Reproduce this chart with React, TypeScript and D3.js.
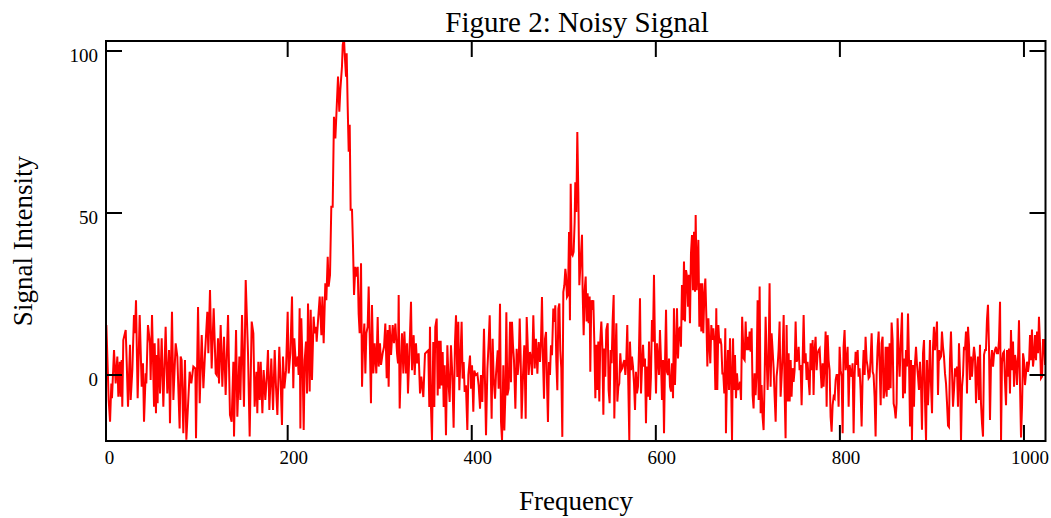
import React from "react";
import * as d3 from "d3";

// Frequency / intensity samples
const frequency: number[] = [
  // 0 - 175
  3, 5.5, 7, 8.4, 9.1, 11.3, 13.1, 14.9, 16, 17.5,
  18.5, 19.6, 20.3, 21.4, 24, 25.1, 26.5, 28.7, 29.4, 31.2,
  33, 34.1, 35.2, 37, 39.2, 41.4, 42.8, 43.9, 45.7, 46.4,
  48.2, 50.4, 51.1, 52.6, 54.8, 55.5, 56.9, 57.7, 58.7, 59.5,
  61.3, 63.1, 64.9, 67.4, 69.2, 71.1, 72.1, 74.3, 75.8, 78.3,
  80.1, 82.6, 83.7, 84.8, 86.6, 88.4, 89.9, 93.5, 95.3, 97.5,
  99.7, 100.4, 102.6, 104.4, 106.6, 108.4, 110.2, 112.7, 113.8, 115.6,
  117.4, 119.6, 121.8, 122.9, 124.3, 125.4, 127.2, 129, 130.8, 132.6,
  135.2, 137.3, 139.1, 141, 141.7, 143.9, 145.3, 147.5, 148.6, 150.4,
  152.5, 154.4, 156.9, 158.7, 160.9, 162.7, 164.1, 166, 167, 168.1,
  169.6, 170.7, 172.5,
  // 175 - 345
  173.9, 175.7, 177.5, 178.6, 180.1, 182.2, 184.1, 185.9, 187.3, 188.8,
  190.9, 192.4, 193.8, 194.9, 196.4, 198.2, 200, 201.1, 202.9, 204.7,
  206.1, 207.2, 209, 210.9, 211.9, 213, 213.8, 214.8, 216.3, 217.4,
  218.5, 219.9, 221, 222.1, 223.9, 225, 226.4, 228.2, 229.3, 230.8,
  231.5, 233, 234.8, 236.6, 237.7, 239.1, 240.9, 242, 243.5, 244.5,
  246, 247.4, 248.9, 250.3, 251.8, 253.6, 254.7, 256.1, 257.2, 259,
  259.8, 261.2, 261.9, 263.4, 264.1, 265.2, 266.3, 267.4, 268.4, 269.9,
  271, 272.1, 273.5, 274.6, 276.1, 277.1, 278.2, 279.7, 280.8, 281.8,
  283.3, 284.4, 285.5, 286.9, 288, 289.1, 290.5, 291.6, 293.1, 294.5,
  296.3, 297.8, 298.9, 300.3, 301.4, 303.2, 304.7, 306.1, 307.6, 308.7,
  309.7, 310.8, 312.3, 314.1, 315.5, 317, 318.8, 319.9, 320.6, 321.7,
  323.1, 324.2, 325.7, 326.8, 328.6, 329.7, 330.7, 332.2, 334, 335.1,
  336.9, 338, 339.4, 340.5, 342.3, 343.8, 345.2,
  // 345 - 517
  347.4, 349.2, 351, 352.8, 353.9, 354.6, 355.7, 356.8, 358.2, 359.3,
  360.4, 361.9, 363, 364, 365.1, 366.2, 367.3, 368.4, 369.5, 370.6,
  372, 373.5, 374.9, 376, 377.4, 378.9, 380.3, 381.8, 382.9, 384.3,
  385.4, 386.5, 387.6, 389, 390.1, 391.2, 392.3, 393.7, 395.2, 396.3,
  398.1, 399.2, 400.3, 401.7, 402.8, 404.2, 406.1, 407.5, 409, 410,
  411.5, 413.3, 414.4, 415.5, 417, 418.4, 419.5, 420.5, 421.6, 422.7,
  423.8, 425.3, 426.3, 428.2, 429.2, 430.7, 431.8, 432.9, 434.3, 435.4,
  436.5, 437.6, 438.7, 440.1, 441.6, 442.6, 443.7, 444.8, 445.9, 447.4,
  448.8, 449.9, 451, 452.1, 453.1, 454.2, 455.7, 457.1, 458.6, 459.7,
  460.7, 461.8, 463.3, 464.4, 465.5, 466.9, 468.4, 469.8, 471.3, 472.7,
  474.2, 475.2, 476.3, 477.4, 478.5, 479.6, 480.7, 481.8, 482.8, 483.9,
  485, 486.1, 487.2, 488.6, 489.7, 490.8, 491.9, 493, 494.1, 495.2,
  496.2, 497.3, 498.4, 499.5, 500.6, 501.7, 502.4, 503.5, 504.6, 505.7,
  506.7, 507.5, 508.6, 509.6, 510.7, 511.8, 512.5, 513.6, 514.7, 515.8,
  516.9,
  // 519 - 691
  519.8, 520.5, 521.6, 522.7, 523.8, 524.8, 525.9, 527, 528.1, 528.8,
  529.9, 531, 532.1, 533.2, 534.3, 535.3, 536.4, 537.5, 538.6, 539.7,
  540.8, 541.9, 543, 544, 545.1, 546.2, 547.7, 548.7, 549.8, 550.9,
  552, 553.1, 554.2, 554.9, 556, 557.1, 558.2, 559.3, 560.3, 561.4,
  562.5, 563.6, 564.7, 565.8, 566.9, 567.9, 569, 570.1, 571.2, 571.9,
  573, 574.1, 575.2, 576.3, 577.4, 578.4, 579.5, 580.6, 581.7, 582.8,
  583.9, 585, 586.1, 587.1, 588.2, 589.3, 590.4, 591.5, 592.6, 593.7,
  594.7, 595.8, 596.9, 598, 599.1, 600.2, 601.3, 602.4, 603.4, 604.5,
  605.6, 606.7, 607.8, 608.9, 610, 611.1, 612.1, 613.2, 614.3, 615.4,
  616.5, 617.6, 618.7, 619.7, 620.8, 621.9, 623, 624.1, 625.2, 626.3,
  627.3, 628.4, 629.5, 630.6, 631.7, 632.8, 633.9, 635, 636, 637.1,
  638.2, 639.3, 640.4, 641.5, 642.6, 643.3, 644.4, 645.5, 646.2, 647.3,
  648.4, 649.4, 650.5, 651.6, 652.7, 653.8, 654.9, 656, 657.1, 658.1,
  659.2, 660.3, 661.4, 662.5, 663.6, 664.7, 665.7, 666.8, 667.9, 669,
  670.1, 671.2, 672.3, 673.3, 674.4, 675.5, 676.2, 677.3, 678.4, 679.5,
  680.6, 681.7, 682.8, 683.9, 684.9, 686, 687.1, 688.2, 689.3, 690.4,
  // 691 - 866
  691.5, 692.6, 693.8, 695.4, 696.5, 697.6, 698.6, 699.7, 700.8, 701.9,
  703, 704.1, 705.2, 706.2, 707.3, 708.4, 709.5, 710.6, 711.7, 712.8,
  713.9, 714.9, 716, 717.1, 718.2, 719.3, 720.4, 721.5, 722.5, 723.6,
  724.7, 725.8, 726.9, 728, 729.1, 730.2, 731.2, 732.3, 733.4, 734.5,
  735.6, 736.7, 737.8, 738.9, 739.9, 741, 742.1, 743.2, 744.3, 745.4,
  746.5, 747.5, 748.6, 749.7, 750.8, 751.9, 753, 754.1, 755.2, 756.2,
  757.3, 758.4, 759.5, 760.6, 761.7, 762.8, 763.8, 764.9, 766, 767.1,
  768.2, 769.3, 770.4, 771.4, 772.5, 773.6, 774.7, 775.8, 776.9, 778,
  779.1, 780.1, 781.2, 782.3, 783.4, 784.5, 785.6, 786.7, 787.7, 788.8,
  789.9, 791, 792.1, 793.2, 794.3, 795.4, 796.4, 797.5, 798.6, 799.7,
  800.8, 801.9, 803, 804, 805.1, 806.2, 807.3, 808.4, 809.5, 810.6,
  811.7, 812.7, 813.8, 814.9, 816, 817.1, 818.2, 819.3, 820.3, 821.4,
  822.5, 823.6, 824.7, 825.8, 826.9, 827.9, 829, 830.1, 831.2, 832.3,
  833.4, 834.5, 835.6, 836.6, 837.7, 838.8, 839.9, 841, 842.1, 843.2,
  844.3, 845.3, 846.4, 847.5, 848.6, 849.7, 850.8, 851.9, 853, 854,
  855.1, 856.2, 857.3, 858.4, 859.5, 860.6, 861.6, 862.7, 863.8, 864.9,
  866,
  // 867 - 1023
  867.5, 868.6, 869.6, 870.7, 871.8, 872.9, 874, 875.1, 876.2, 877.3,
  878.3, 879.4, 880.5, 881.6, 882.7, 883.8, 884.9, 885.9, 887, 888.1,
  889.2, 890.3, 891.4, 892.5, 893.6, 894.6, 895.7, 896.8, 897.9, 899,
  900.1, 901.2, 902.2, 903.3, 904.4, 905.5, 906.6, 907.7, 908.8, 909.9,
  910.9, 912, 913.1, 914.2, 915.3, 916.4, 917.5, 918.5, 919.6, 920.7,
  921.8, 922.9, 924, 925.1, 926.1, 927.2, 928.3, 929.4, 930.5, 931.6,
  932.7, 933.8, 934.8, 935.9, 937, 938.1, 939.2, 940.3, 941.4, 942.4,
  943.5, 944.6, 945.7, 946.8, 947.9, 949, 950, 951.1, 952.2, 953.3,
  954.4, 955.5, 956.6, 957.7, 958.7, 959.8, 960.9, 962, 963.1, 964.2,
  965.3, 966.4, 967.4, 968.5, 969.6, 970.7, 971.8, 972.9, 974, 975.1,
  976.1, 977.2, 978.3, 979.4, 980.5, 981.6, 982.7, 983.7, 984.8, 985.9,
  987, 988.1, 989.2, 990.3, 991.4, 992.4, 993.5, 994.6, 995.7, 996.8,
  997.9, 999, 1000, 1001.1, 1002.2, 1003.3, 1004.4, 1005.5, 1006.6, 1007.6,
  1008.7, 1009.8, 1010.9, 1012, 1013.1, 1014.2, 1015.3, 1016.3, 1017.4, 1018.5,
  1019.6, 1020.7, 1021.8, 1023,
];

const intensity: number[] = [
  // 0 - 175
  15.4, -7.7, -14.4, -2.6, -7.2, 7.7, -2.6, 5.7, -6.7, 4.1,
  -6.7, 4.6, -9.8, 10.8, 13.9, 4.1, -9.8, 9.3, -7.7, 1.5,
  18.5, 12.9, 23.1, -7.2, 18.5, -3.6, 3.6, -14.4, 0.5, -2.6,
  15.4, 9.8, -1.5, 18.5, -9.8, 9.8, -11.8, 6.2, -8.7, 11.3,
  -5.7, 11.3, -9.8, 14.9, -5.7, 7.7, -14.9, 19.5, -7.7, 9.8,
  5.7, -16.5, 5.7, 4.6, -18, 4.6, -20, 1, -2.6, 2.6,
  2, -19.5, 21, -8.7, 12.3, -4.1, 6.7, 19.5, 6.7, 26.2,
  2, 20.6, 0.5, 0, 11.3, -2.6, 15.4, -3.6, 11.8, -6.2,
  18.5, -12.3, -14.4, 4.1, -19, 13.9, -12.9, 5.7, -7.7, 18.5,
  -9.8, 29.3, 6.7, -19, 16.5, 12.9, -9.8, 1, -11.8, 4.1,
  -7.7, 4.1, -11.8,
  // 175 - 345
  1.5, -7.7, 0.5, 7.7, -10.8, 5.1, -10.8, 7.7, -3.6, -12.3,
  8.7, -2.6, -15.4, 5.7, -4.1, 1.5, 19.5, 0.5, 6.7, 24.2,
  -4.1, 11.3, 2.6, 5.7, 0, 20.6, -16.5, 17.5, 1.5, -17,
  4.6, 10.3, -5.7, 22.1, -5.1, 20.1, -1.5, 18, 12.9, 14.9,
  10.3, 16.9, 24.2, 12.3, 24.2, 9.8, 28.3, 23.1, 36.5, 27.3,
  30.9, 51.9, 51.9, 79.7, 73, 84.9, 92.1, 81.3, 88, 95.2,
  101.9, 104, 99.3, 92.1, 99.3, 82.8, 68.9, 77.2, 51, 51,
  39.6, 24.7, 33.4, 30.4, 33.4, 19, 12.9, 34.5, -3.6, 8.7,
  15.9, 0.5, 12.9, 14.9, 27.3, 12.3, -8.7, 21.6, 0.5, 9.8,
  0.5, 17.9, 2.6, 9.8, 3.1, 6.7, 8.7, 15.9, -1, 13.9,
  -3.6, 15.4, 6.2, 15.4, 9.8, 15.9, 6.7, 3.6, 24.7, -10.3,
  4.1, 12.9, 0.5, 13.4, 0.5, 9.8, -5.7, 6.2, 22.6, 1.5,
  12.3, 0, 9.8, 3.6, 6.7, -5.7, -0.5,
  // 345 - 517
  -6.8, 6.6, 7.1, 7.6, -9.9, 14.9, -9.9, -20.2, 10.2, -9.9,
  14.9, 17.4, -6.3, 10.6, -4.2, 10.6, -3.2, 7.1, -9.9, 3,
  -18.6, 9.2, -3.2, -8.3, 9.2, 0, -16.3, 10.2, 18.4, -0.6,
  16.4, -4.7, 4, 16.4, -1.1, 4, -5.2, -3.2, -17, 0,
  6, -4.2, 3, -11.3, 1.4, 0, 0.4, -3.2, -10.4, 0,
  -8.3, 14.3, -2.2, -18.6, 1.9, 10.2, 18.4, 4, -13.5, 11.2,
  -1.1, -7.3, 0, 7.6, -4.2, 22, -14.5, -20.3, 3, -17.1,
  -6.3, 19.4, -6.3, -4.2, 16.4, -2.2, 16.4, 9.2, 4.5, -10.4,
  8.1, 0, 4, 17.4, 6.1, -13.5, 0, 9.2, -13.5, 17.9,
  10.2, 0, 7.1, 5.1, 0, 18.4, 2, 11.2, 0.4, 10.2,
  4, 10.2, 24.1, 5.1, -7.3, 11.2, 13.3, -2.7, -14.5, 4,
  0, 9.2, 6.1, 20.5, 16.4, 21.5, 4, -4.7, 20.5, 22.1,
  7.6, 2, -19.1, 25.6, 27.7, 32.8, 30.9, 24.1, 24.7, 44.1,
  16.9, 59, 37.4, 36.9, 38, 47.2, 59.5, 50.3, 75, 56.5,
  27.7,
  // 519 - 691
  43.3, 25.7, 12.3, 26.2, 30.4, 16.5, 25.2, 16, 24.2, 1,
  23.1, 20.1, 23.1, 9.8, -7.2, 9.3, -4.6, 10.3, -8.2, 10.8,
  16.5, 8.7, -12.3, 8.2, -0.5, 13.9, 16, -4.6, -8.7, 7.7,
  3.6, 16.9, 24.7, -13.4, 3.6, 16, -8.2, -3.6, -2.6, 6.7,
  1.5, 2.1, 3.6, 4.6, 0, 4.6, 15.4, -3.1, -20.1, 10.3,
  1.5, 5.7, 2.6, -2.6, -10.8, 1, -5.7, -3.6, 7.7, 23.7,
  -5.7, 2.6, 9.3, 2.6, 5.1, -14.9, 2.6, -6.7, 10.3, -7.7,
  -0.5, 17, 10.3, 30.9, 8.2, -5.7, 9.8, 4.6, 0, 13.9,
  4.6, -7.7, 4.6, -18, 4.1, 20.1, 1, 0, 5.1, -3.6,
  -5.1, 3.6, -7.2, 20.6, -3.1, 7.7, 20.6, 5.1, 13.9, 14.9,
  8.7, 27.8, 16.9, 35, 16.5, 32.4, 30.4, 21.1, 30.9, 16,
  37.6, 43.2, 26.2, 44.2, 25.7, 49.4, 26.2, 35.5, 41.7, 14.9,
  28.3, 13.4, 28.3, 12.9, 24.7, 29.8, 18, 2.6, 17.5, 9.8,
  3.6, 15.4, 10.8, 14.4, 10.3, -4.6, 20.6, -4.6, 15.4, 9.8,
  11.3, 9.3, 0.5, 0.5, -5.7, 14.4, -18, 0, 7.7, -4.6,
  11.3, -0.5, -20.1, 11.3, -4.6, 6.2, -7.2, 0.5, -4.6, -3.6,
  // 691 - 866
  -2.1, -7.7, 18, 5.1, 4.6, 16.5, 7.7, 11.8, 7.7, 13.4,
  7.2, 14.4, -6.2, -10.3, 0.5, -6.2, 0.5, 23.1, -7.7, 27.3,
  -11.8, -3.1, -12.9, -17, -1.5, 18, 5.7, -4.6, 4.6, 28.3,
  -3.6, 12.9, 7.7, 2.1, -6.7, -14.4, -0.5, 2.6, 7.7, 16.5,
  -6.7, -0.5, 6.7, 18.5, -4.6, -19.5, 15.4, -8.2, 6.7, -8.2,
  4.6, -6.7, 2.1, -2.1, 1.5, 16.5, 4.1, 5.1, 8.7, 1.5,
  3.1, -9.3, 4.1, 18.5, 3.6, 6.7, -1.5, 4.1, -1.5, -6.2,
  9.8, 1.5, 10.8, -6.2, 7.7, 11.8, 1.5, 6.7, 7.7, 8.2,
  1.5, -4.1, 3.6, -3.6, 3.6, 13.4, -9.8, 12.3, 4.6, 1.5,
  -12.9, -17.5, -9.3, -6.7, -7.2, -1.5, 0, 0, -9.8, 8.7,
  1.5, -0.5, -18, 8.7, 13.9, 1.5, 4.1, 8.7, -9.8, 3.1,
  0.5, -0.5, 3.6, -18, 0, 7.2, 3.1, 7.7, -0.5, 2.1,
  -4.6, -15.9, -0.5, 7.7, 0, 11.8, 4.6, 2.6, -1, -0.5,
  5.1, 12.9, 1, 0, -6.7, -19, 0, 8.7, 13.4, 2.6,
  -9.3, 9.8, 11.8, -7.2, -4.6, 8.7, -6.7, 8.7, -4.6, 9.8,
  -4.1, 16.2, 10.8, -8.8, -10.3, -13.4, -8.8, 17.5, 7.2, -0.5,
  9.3,
  // 867 - 1023
  19.3, -7.2, 5.1, -5.7, 7.7, 2.6, 19, 4.6, -15.9, 4.6,
  -20.3, 3.1, -9.8, 3.6, 8.7, 3.1, -0.5, -4.6, 4.1, -2.6,
  -16.9, 6.7, 10.8, -8.2, -20.3, 4.6, -9.3, -1.5, 10.8, -3.1,
  -11.8, 8.7, 14.9, 7.7, 11.8, 16.5, -6.2, 7.7, 5.1, 5.7,
  13.4, 8.7, 5.7, 0.5, -2.6, -8.7, -15.6, -16, 4.6, 13.4,
  1.5, -9.8, -4.6, 2.1, -0.5, 2.6, -9.8, 9.8, 0.5, -20.3,
  -3.6, 0, 8.7, 7.7, 13.4, -5.7, 14.9, 9.3, -1.5, 5.7,
  -0.5, 4.6, 8.7, 5.7, -8.7, 1.5, 5.7, -7.7, 9.3, -8.7,
  -14.9, -19, 6.2, 7.7, 7.7, 17, 21.7, 8.7, -13.9, 4.1,
  7.7, 2.6, 6.2, 7.7, 8.7, 6.7, 6.7, 10.8, 22.6, -20.3,
  3.6, 6.7, 7.2, -2.1, -9.3, 7.7, -0.5, 8.2, -5.7, 13.9,
  1.5, 10.3, -3.6, 6.2, 4.1, -3.1, 4.6, 16.9, -3.1, -19.3,
  -9.8, 6.7, 4.6, -3.1, 0.5, 4.1, 1, 3.6, 12.3, 4.6,
  14, 2.6, 5.7, 12.3, 4.6, 13.4, 6.7, 18, 9.8, -1,
  -0.5, 10.8, 10.8, 3.1,
];

const xTicks = [0, 200, 400, 600, 800, 1000];
const yTicks = [0, 50, 100];
const title = "Figure 2: Noisy Signal";
const xTitle = "Frequency";
const yTitle = "Signal Intensity";

const W = 1051;
const H = 518;
const box = { left: 106, right: 1045.5, top: 41, bottom: 441 };
const FONT = "'Liberation Serif', 'Times New Roman', serif";
const TICK = 16;

export default function App() {
  const x = d3.scaleLinear().domain([2.6, 1023.4]).range([box.left, box.right]);
  const y = d3.scaleLinear().domain([-20.37, 103.09]).range([box.bottom, box.top]);

  const n = Math.min(frequency.length, intensity.length);
  const points: [number, number][] = [];
  for (let i = 0; i < n; i++) points.push([frequency[i], intensity[i]]);

  const line = d3
    .line<[number, number]>()
    .x((d) => x(d[0]))
    .y((d) => y(d[1]));

  const inX = (v: number) => x(v) >= box.left && x(v) <= box.right;

  return (
    <svg
      width={W}
      height={H}
      style={{ position: "absolute", left: 0, top: 0, display: "block", background: "#fff" }}
    >
      <defs>
        <clipPath id="plotClip">
          <rect x={box.left} y={box.top} width={box.right - box.left} height={box.bottom - box.top} />
        </clipPath>
      </defs>

      <path
        d={line(points) || ""}
        fill="none"
        stroke="#ff0000"
        strokeWidth={2}
        strokeLinejoin="miter"
        clipPath="url(#plotClip)"
      />

      {/* frame */}
      <rect
        x={box.left}
        y={box.top}
        width={box.right - box.left}
        height={box.bottom - box.top}
        fill="none"
        stroke="#000"
        strokeWidth={2}
      />

      {/* x ticks (bottom + top mirror) */}
      {xTicks.filter(inX).map((t) => (
        <g key={"xt" + t}>
          <line x1={x(t)} x2={x(t)} y1={box.bottom} y2={box.bottom - TICK} stroke="#000" strokeWidth={2} />
          <line x1={x(t)} x2={x(t)} y1={box.top} y2={box.top + TICK} stroke="#000" strokeWidth={2} />
        </g>
      ))}
      {xTicks.map((t) => (
        <text
          key={"xl" + t}
          x={x(t) + 6}
          y={464}
          textAnchor="middle"
          fontFamily={FONT}
          fontSize={19}
          fill="#000"
        >
          {t}
        </text>
      ))}

      {/* y ticks (left + right mirror) */}
      {yTicks.map((t) => (
        <g key={"yt" + t}>
          <line x1={box.left} x2={box.left + TICK} y1={y(t)} y2={y(t)} stroke="#000" strokeWidth={2} />
          <line x1={box.right} x2={box.right - TICK} y1={y(t)} y2={y(t)} stroke="#000" strokeWidth={2} />
          <text
            x={98}
            y={y(t) + 10.5}
            textAnchor="end"
            fontFamily={FONT}
            fontSize={19}
            fill="#000"
          >
            {t}
          </text>
        </g>
      ))}

      <text x={577} y={32} textAnchor="middle" fontFamily={FONT} fontSize={29} fill="#000">
        {title}
      </text>
      <text x={576} y={510} textAnchor="middle" fontFamily={FONT} fontSize={27} fill="#000">
        {xTitle}
      </text>
      <text
        transform={`translate(32, ${(box.top + box.bottom) / 2}) rotate(-90)`}
        textAnchor="middle"
        fontFamily={FONT}
        fontSize={27}
        fill="#000"
      >
        {yTitle}
      </text>
    </svg>
  );
}
